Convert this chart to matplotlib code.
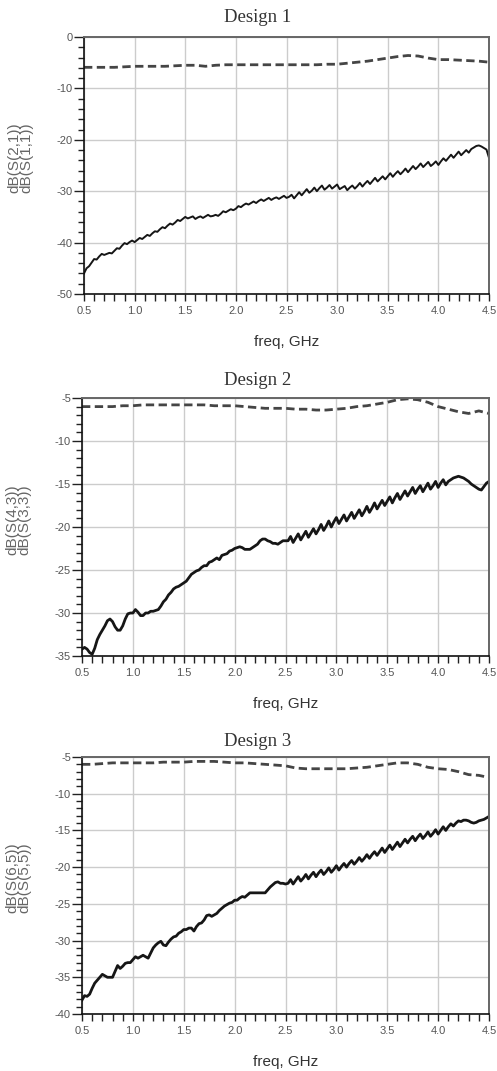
import numpy as np
import matplotlib
matplotlib.use("Agg")
import matplotlib.pyplot as plt
from matplotlib.ticker import MultipleLocator, FormatStrFormatter

plt.rcParams['axes.unicode_minus'] = False

# frequency sweeps (GHz)
freq_fine = np.linspace(0.5, 4.5, 161)   # step 0.025, reflection curves
freq_coarse = np.linspace(0.5, 4.5, 41)  # step 0.1, transmission curves

# Design 1
d1_s21 = [-5.9, -5.9, -5.9, -5.9, -5.8, -5.7, -5.7, -5.7, -5.7, -5.6,
          -5.5, -5.5, -5.7, -5.5, -5.4, -5.4, -5.4, -5.4, -5.4, -5.4,
          -5.4, -5.4, -5.4, -5.4, -5.3, -5.3, -5.1, -4.9, -4.7, -4.4,
          -4.1, -3.8, -3.6, -3.7, -4.1, -4.4, -4.4, -4.5, -4.6, -4.7,
          -4.9]
d1_s11 = [-46.0, -45.0, -44.6, -43.9, -43.2, -43.3, -42.7, -42.2, -42.4, -42.2,
          -42.0, -42.1, -41.6, -41.1, -41.2, -40.6, -40.1, -40.3, -39.9, -39.6,
          -39.9, -39.5, -39.1, -39.3, -38.9, -38.5, -38.7, -38.2, -37.8, -37.9,
          -37.4, -37.0, -37.2, -36.7, -36.3, -36.5, -36.1, -35.6, -35.8, -35.4,
          -35.0, -35.3, -35.1, -34.9, -35.4, -35.1, -34.9, -35.2, -34.9, -34.6,
          -34.9, -34.8, -34.6, -34.8, -34.4, -33.9, -34.1, -33.8, -33.5, -33.7,
          -33.4, -32.9, -33.1, -32.7, -32.4, -32.6, -32.3, -32.0, -32.3, -31.9,
          -31.6, -31.9, -31.6, -31.3, -31.7, -31.4, -31.2, -31.5, -31.2, -30.9,
          -31.3, -31.1, -30.7, -31.4, -30.8, -30.2, -30.8, -30.2, -29.6, -30.3,
          -29.9, -29.3, -30.0, -29.4, -28.9, -29.7, -29.3, -28.8, -29.5, -29.1,
          -28.7, -29.6, -29.3, -29.0, -29.8, -29.3, -28.9, -29.5, -29.0, -28.4,
          -29.1, -28.5, -28.0, -28.6, -28.0, -27.4, -28.1, -27.6, -27.1, -27.7,
          -27.1, -26.5, -27.2, -26.6, -26.1, -26.7, -26.2, -25.6, -26.3, -25.7,
          -25.1, -25.7, -25.2, -24.6, -25.3, -24.8, -24.3, -25.1, -24.7, -24.2,
          -24.9, -24.2, -23.6, -24.1, -23.5, -22.9, -23.5, -22.9, -22.3, -23.0,
          -22.5, -22.0, -22.5, -21.8, -21.5, -21.2, -21.1, -21.3, -21.6, -21.9,
          -23.5]

# Design 2
d2_s43 = [-6.0, -6.0, -6.0, -6.0, -5.9, -5.9, -5.8, -5.8, -5.8, -5.8,
          -5.8, -5.8, -5.8, -5.9, -5.9, -5.9, -6.0, -6.1, -6.2, -6.2,
          -6.2, -6.3, -6.3, -6.4, -6.4, -6.3, -6.2, -6.0, -5.9, -5.7,
          -5.5, -5.2, -5.1, -5.2, -5.5, -6.0, -6.3, -6.6, -6.8, -6.5,
          -6.8]
d2_s33 = [-34.2, -34.0, -34.2, -34.6, -34.8, -34.1, -33.1, -32.5, -32.0, -31.5,
          -30.9, -30.7, -31.0, -31.6, -32.0, -32.0, -31.5, -30.7, -30.1, -30.0,
          -30.0, -29.6, -29.9, -30.3, -30.3, -30.0, -30.0, -29.8, -29.8, -29.7,
          -29.6, -29.2, -28.7, -28.4, -27.9, -27.6, -27.2, -27.0, -26.9, -26.7,
          -26.5, -26.3, -25.9, -25.5, -25.3, -25.1, -25.0, -24.7, -24.5, -24.5,
          -24.1, -24.0, -23.8, -23.6, -23.8, -23.3, -23.2, -23.1, -22.8, -22.7,
          -22.5, -22.4, -22.3, -22.4, -22.6, -22.6, -22.6, -22.4, -22.2, -22.0,
          -21.6, -21.4, -21.4, -21.6, -21.7, -21.9, -21.9, -22.0, -21.8, -21.6,
          -21.6, -21.6, -21.1, -21.8, -21.3, -20.8, -21.5, -21.0, -20.5, -21.2,
          -20.7, -20.2, -20.8, -20.3, -19.7, -20.4, -19.9, -19.3, -20.0, -19.4,
          -18.9, -19.6, -19.1, -18.6, -19.3, -18.8, -18.3, -19.0, -18.5, -18.0,
          -18.7, -18.2, -17.6, -18.3, -17.8, -17.2, -17.9, -17.4, -16.9, -17.5,
          -17.0, -16.5, -17.2, -16.6, -16.1, -16.8, -16.3, -15.8, -16.4, -15.9,
          -15.4, -16.1, -15.6, -15.2, -15.9, -15.4, -14.9, -15.6, -15.2, -14.7,
          -15.4, -14.9, -14.5, -15.1, -14.7, -14.5, -14.3, -14.2, -14.1, -14.2,
          -14.3, -14.5, -14.7, -15.0, -15.2, -15.4, -15.6, -15.7, -15.3, -14.9,
          -14.7]

# Design 3
d3_s65 = [-6.0, -6.0, -5.9, -5.8, -5.8, -5.8, -5.8, -5.8, -5.7, -5.7,
          -5.7, -5.6, -5.6, -5.6, -5.7, -5.8, -5.8, -5.9, -6.0, -6.1,
          -6.2, -6.5, -6.6, -6.6, -6.6, -6.6, -6.6, -6.5, -6.4, -6.2,
          -6.0, -5.8, -5.8, -6.0, -6.4, -6.6, -6.7, -7.0, -7.4, -7.5,
          -7.8]
d3_s55 = [-38.1, -37.5, -37.6, -37.3, -36.5, -35.8, -35.4, -35.0, -34.6, -34.8,
          -35.0, -35.0, -35.0, -34.2, -33.4, -33.8, -33.5, -33.1, -33.0, -33.0,
          -32.6, -32.2, -32.4, -32.2, -32.0, -32.2, -32.4, -31.7, -31.0, -30.6,
          -30.3, -30.1, -30.6, -30.7, -30.2, -29.8, -29.5, -29.4, -29.0, -28.8,
          -28.5, -28.5, -28.3, -28.3, -28.7, -28.1, -27.7, -27.6, -27.2, -26.6,
          -26.5, -26.7, -26.5, -26.3, -25.9, -25.6, -25.3, -25.1, -24.9, -24.8,
          -24.5, -24.5, -24.2, -24.0, -24.1, -23.8, -23.5, -23.5, -23.5, -23.5,
          -23.5, -23.5, -23.5, -23.1, -22.7, -22.4, -22.1, -22.0, -22.2, -22.2,
          -22.3, -22.2, -21.7, -22.3, -21.8, -21.3, -21.9, -21.5, -21.0, -21.6,
          -21.1, -20.7, -21.3, -20.8, -20.4, -21.0, -20.6, -20.1, -20.7, -20.3,
          -19.8, -20.4, -19.9, -19.5, -20.0, -19.5, -19.1, -19.6, -19.2, -18.7,
          -19.2, -18.8, -18.3, -18.8, -18.3, -17.9, -18.4, -17.9, -17.4, -18.0,
          -17.5, -17.0, -17.6, -17.1, -16.6, -17.2, -16.7, -16.2, -16.7, -16.2,
          -15.8, -16.4, -15.9, -15.5, -16.1, -15.7, -15.2, -15.8, -15.4, -14.9,
          -15.5, -15.0, -14.5, -15.0, -14.5, -14.1, -14.4, -14.0, -13.7, -13.8,
          -13.6, -13.6, -13.7, -13.9, -14.0, -13.9, -13.7, -13.6, -13.5, -13.3,
          -13.1]

titles = ["Design 1", "Design 2", "Design 3"]
ylabels = ["dB(S(2,1))\ndB(S(1,1))", "dB(S(4,3))\ndB(S(3,3))", "dB(S(6,5))\ndB(S(5,5))"]
ylims = [(-50, 0), (-35, -5), (-40, -5)]
ymajor = [10, 5, 5]
yminor = [2, 1, 1]
trans = [d1_s21, d2_s43, d3_s65]
refl = [d1_s11, d2_s33, d3_s55]
solid_lw = [1.4, 2.0, 2.0]

W, H = 497, 1071
fig = plt.figure(figsize=(W / 100, H / 100), dpi=100)

# axes boxes in pixels: left, top, right, bottom
boxes = [(84, 37, 489, 294), (82, 398, 489, 656), (82, 757, 489, 1014)]
title_y = [17, 380, 742]

for k in range(3):
    l, t, r, b = boxes[k]
    ax = fig.add_axes([l / W, 1 - b / H, (r - l) / W, (b - t) / H])

    ax.plot(freq_coarse, trans[k], color='#454545', lw=2.0, ls=(0, (3, 1.6)))
    ax.plot(freq_fine, refl[k], color='#161616', lw=solid_lw[k])

    ax.set_xlim(0.5, 4.5)
    ax.set_ylim(*ylims[k])
    ax.xaxis.set_major_locator(MultipleLocator(0.5))
    ax.xaxis.set_minor_locator(MultipleLocator(0.1))
    ax.yaxis.set_major_locator(MultipleLocator(ymajor[k]))
    ax.yaxis.set_minor_locator(MultipleLocator(yminor[k]))
    ax.xaxis.set_major_formatter(FormatStrFormatter('%.1f'))
    ax.yaxis.set_major_formatter(FormatStrFormatter('%d'))

    ax.grid(True, which='major', color='#cccccc', lw=1.0)
    ax.set_axisbelow(True)

    ax.tick_params(which='both', direction='out', colors='#222222',
                   labelcolor='#555555', labelsize=8, width=1.0)
    ax.tick_params(axis='y', which='major', length=7, pad=1)
    ax.tick_params(axis='y', which='minor', length=4)
    ax.tick_params(axis='x', which='both', length=5, pad=4)

    for side in ['left', 'bottom']:
        ax.spines[side].set_color('#111111')
        ax.spines[side].set_linewidth(1.2)
    for side in ['top', 'right']:
        ax.spines[side].set_color('#666666')
        ax.spines[side].set_linewidth(1.4)

    ax.set_xlabel("freq, GHz", fontsize=11, color='#333333', family='Liberation Sans')
    ax.xaxis.set_label_coords(0.5, -0.16)
    ax.set_ylabel(ylabels[k], fontsize=11, color='#666666', family='Liberation Sans',
                  linespacing=0.8)
    ax.yaxis.set_label_coords(-0.125, 0.53)

    for lab in ax.get_xticklabels() + ax.get_yticklabels():
        lab.set_family('Liberation Sans')

    fig.text(258 / W, 1 - title_y[k] / H, titles[k], ha='center', va='center',
             fontsize=13.5, family='Liberation Serif', color='#333333')

fig.savefig("out.png", dpi=100)
